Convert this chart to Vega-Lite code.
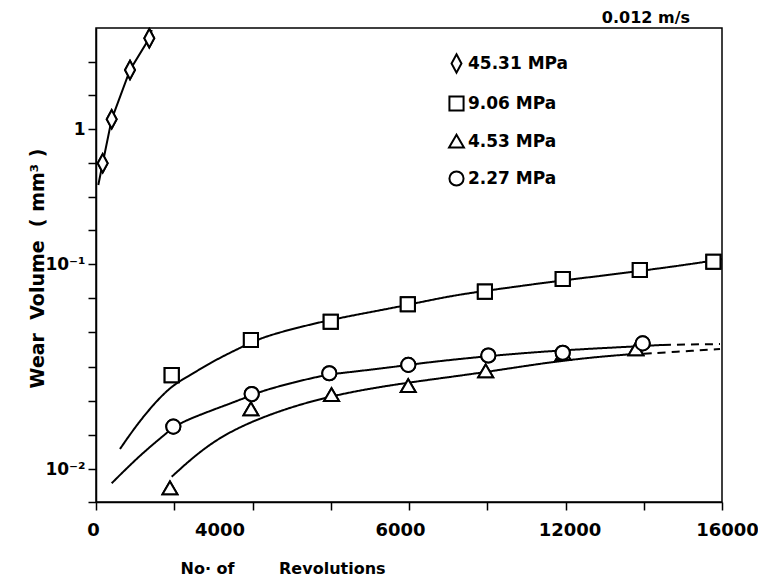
{
  "$schema": "https://vega.github.io/schema/vega-lite/v6.json",
  "width": 626,
  "height": 474,
  "autosize": {"type": "none"},
  "padding": {"left": 96, "top": 28, "right": 36, "bottom": 83},
  "background": "white",
  "title": {"text": "0.012 m/s", "anchor": "end", "frame": "group", "font": "DejaVu Sans", "fontWeight": "bold", "fontSize": 16, "color": "black", "offset": -1, "dx": -32},
  "datasets": {
    "points": [
      {"pressure": "45.31 MPa", "rev": 171, "wear": 0.557},
      {"pressure": "45.31 MPa", "rev": 401, "wear": 1.18},
      {"pressure": "45.31 MPa", "rev": 869, "wear": 2.735},
      {"pressure": "45.31 MPa", "rev": 1362, "wear": 4.70},
      {"pressure": "9.06 MPa", "rev": 1935, "wear": 0.0287},
      {"pressure": "9.06 MPa", "rev": 3960, "wear": 0.0426},
      {"pressure": "9.06 MPa", "rev": 6000, "wear": 0.0523},
      {"pressure": "9.06 MPa", "rev": 7970, "wear": 0.0636},
      {"pressure": "9.06 MPa", "rev": 9940, "wear": 0.0733},
      {"pressure": "9.06 MPa", "rev": 11930, "wear": 0.0845},
      {"pressure": "9.06 MPa", "rev": 13900, "wear": 0.0935},
      {"pressure": "9.06 MPa", "rev": 15780, "wear": 0.104},
      {"pressure": "4.53 MPa", "rev": 1890, "wear": 0.00805},
      {"pressure": "4.53 MPa", "rev": 3960, "wear": 0.01956},
      {"pressure": "4.53 MPa", "rev": 6020, "wear": 0.02296},
      {"pressure": "4.53 MPa", "rev": 7980, "wear": 0.02541},
      {"pressure": "4.53 MPa", "rev": 9960, "wear": 0.0300},
      {"pressure": "4.53 MPa", "rev": 11940, "wear": 0.0364},
      {"pressure": "4.53 MPa", "rev": 13800, "wear": 0.0384},
      {"pressure": "2.27 MPa", "rev": 1976, "wear": 0.0161},
      {"pressure": "2.27 MPa", "rev": 3980, "wear": 0.0232},
      {"pressure": "2.27 MPa", "rev": 5963, "wear": 0.0293},
      {"pressure": "2.27 MPa", "rev": 7982, "wear": 0.0322},
      {"pressure": "2.27 MPa", "rev": 10027, "wear": 0.0358},
      {"pressure": "2.27 MPa", "rev": 11929, "wear": 0.0369},
      {"pressure": "2.27 MPa", "rev": 13973, "wear": 0.0410}
    ],
    "curves": [
      {"seg": "dia", "style": "solid", "rev": 59, "wear": 0.385},
      {"seg": "dia", "style": "solid", "rev": 171, "wear": 0.557},
      {"seg": "dia", "style": "solid", "rev": 401, "wear": 1.18},
      {"seg": "dia", "style": "solid", "rev": 869, "wear": 2.735},
      {"seg": "dia", "style": "solid", "rev": 1362, "wear": 4.70},
      {"seg": "dia", "style": "solid", "rev": 1424, "wear": 5.41},
      {"seg": "sq", "style": "solid", "rev": 613, "wear": 0.01252},
      {"seg": "sq", "style": "solid", "rev": 1125, "wear": 0.01734},
      {"seg": "sq", "style": "solid", "rev": 1840, "wear": 0.02484},
      {"seg": "sq", "style": "solid", "rev": 2326, "wear": 0.0281},
      {"seg": "sq", "style": "solid", "rev": 3042, "wear": 0.0340},
      {"seg": "sq", "style": "solid", "rev": 3732, "wear": 0.0394},
      {"seg": "sq", "style": "solid", "rev": 4269, "wear": 0.0441},
      {"seg": "sq", "style": "solid", "rev": 5214, "wear": 0.0493},
      {"seg": "sq", "style": "solid", "rev": 6185, "wear": 0.0545},
      {"seg": "sq", "style": "solid", "rev": 7770, "wear": 0.0619},
      {"seg": "sq", "style": "solid", "rev": 9048, "wear": 0.0700},
      {"seg": "sq", "style": "solid", "rev": 10249, "wear": 0.0753},
      {"seg": "sq", "style": "solid", "rev": 11655, "wear": 0.0820},
      {"seg": "sq", "style": "solid", "rev": 12882, "wear": 0.0874},
      {"seg": "sq", "style": "solid", "rev": 14236, "wear": 0.0942},
      {"seg": "sq", "style": "solid", "rev": 15514, "wear": 0.1029},
      {"seg": "sq", "style": "solid", "rev": 16000, "wear": 0.1089},
      {"seg": "ci", "style": "solid", "rev": 401, "wear": 0.00852},
      {"seg": "ci", "style": "solid", "rev": 1125, "wear": 0.0117},
      {"seg": "ci", "style": "solid", "rev": 1848, "wear": 0.01521},
      {"seg": "ci", "style": "solid", "rev": 2147, "wear": 0.0170},
      {"seg": "ci", "style": "solid", "rev": 3808, "wear": 0.02213},
      {"seg": "ci", "style": "solid", "rev": 4276, "wear": 0.0243},
      {"seg": "ci", "style": "solid", "rev": 5810, "wear": 0.02874},
      {"seg": "ci", "style": "solid", "rev": 6236, "wear": 0.0293},
      {"seg": "ci", "style": "solid", "rev": 7813, "wear": 0.0318},
      {"seg": "ci", "style": "solid", "rev": 8281, "wear": 0.0328},
      {"seg": "ci", "style": "solid", "rev": 9815, "wear": 0.0353},
      {"seg": "ci", "style": "solid", "rev": 11688, "wear": 0.0378},
      {"seg": "ci", "style": "solid", "rev": 13655, "wear": 0.0395},
      {"seg": "ci", "style": "solid", "rev": 14491, "wear": 0.0403},
      {"seg": "ci", "style": "dashed", "rev": 14491, "wear": 0.0403},
      {"seg": "ci", "style": "dashed", "rev": 15949, "wear": 0.0407},
      {"seg": "tr", "style": "solid", "rev": 1935, "wear": 0.00917},
      {"seg": "tr", "style": "solid", "rev": 2914, "wear": 0.01354},
      {"seg": "tr", "style": "solid", "rev": 4107, "wear": 0.01767},
      {"seg": "tr", "style": "solid", "rev": 5810, "wear": 0.02253},
      {"seg": "tr", "style": "solid", "rev": 7770, "wear": 0.02618},
      {"seg": "tr", "style": "solid", "rev": 9815, "wear": 0.0293},
      {"seg": "tr", "style": "solid", "rev": 11775, "wear": 0.03375},
      {"seg": "tr", "style": "solid", "rev": 13649, "wear": 0.0364},
      {"seg": "tr", "style": "solid", "rev": 14000, "wear": 0.0365},
      {"seg": "tr", "style": "dashed", "rev": 14000, "wear": 0.0365},
      {"seg": "tr", "style": "dashed", "rev": 15361, "wear": 0.0378},
      {"seg": "tr", "style": "dashed", "rev": 15949, "wear": 0.0385}
    ]
  },
  "layer": [
    {
      "data": {"name": "points"},
      "mark": {"type": "point", "filled": false, "fill": "white", "strokeWidth": 2, "size": 200, "opacity": 1},
      "encoding": {
        "x": {
          "field": "rev", "type": "quantitative",
          "scale": {"domain": [0, 16000], "nice": false, "zero": false},
          "axis": {
            "title": "No·\u00a0of\u00a0\u00a0\u00a0\u00a0\u00a0\u00a0\u00a0\u00a0Revolutions",
            "values": [0, 1000, 2000, 3000, 4000, 5000, 6000, 7000, 8000, 9000, 10000, 11000, 12000, 13000, 14000, 15000, 16000],
            "labelExpr": "datum.value == 0 ? '0' : datum.value == 4000 ? '4000' : datum.value == 8000 ? '6000' : datum.value == 12000 ? '12000' : datum.value == 16000 ? '16000' : ''",
            "labelOverlap": false,
            "labelFlush": false,
            "labelBound": false,
            "labelPadding": 11,
            "labelOffset": {"expr": "datum.value == 0 ? -3 : datum.value == 4000 ? -33 : datum.value == 8000 ? -9 : datum.value == 12000 ? 4 : 5"},
            "titleX": 84,
            "titleY": 66,
            "titleAlign": "left",
            "titleBaseline": "middle",
            "titleFontSize": 16
          }
        },
        "y": {
          "field": "wear", "type": "quantitative",
          "scale": {"type": "log", "domain": [0.006902, 0.01, 0.1, 1, 5.6], "range": [474, 441, 236, 101, 0], "nice": false, "zero": false},
          "axis": {
            "title": "Wear\u00a0\u00a0Volume\u00a0\u00a0(\u00a0mm³\u00a0)",
            "values": [0.006902, 0.01, 0.01468, 0.02154, 0.03162, 0.04642, 0.06813, 0.1, 0.1778, 0.3162, 0.5623, 1, 1.778, 3.162],
            "labelExpr": "datum.value == 1 ? '1' : datum.value == 0.1 ? '10⁻¹' : datum.value == 0.01 ? '10⁻²' : ''",
            "labelOverlap": false,
            "labelFlush": false,
            "labelBound": false,
            "labelPadding": 3,
            "labelFontSize": 17,
            "titleX": -59,
            "titleY": 240,
            "titleAngle": -90,
            "titleAlign": "center",
            "titleBaseline": "middle",
            "titleFontSize": 19
          }
        },
        "color": {
          "field": "pressure", "type": "nominal",
          "scale": {"domain": ["45.31 MPa", "9.06 MPa", "4.53 MPa", "2.27 MPa"], "range": ["black", "black", "black", "black"]},
          "legend": {
            "title": null,
            "orient": "none",
            "legendX": 352,
            "legendY": 27,
            "symbolSize": 200,
            "labelOffset": 3,
            "rowPadding": 15
          }
        },
        "shape": {
          "field": "pressure", "type": "nominal",
          "scale": {"domain": ["45.31 MPa", "9.06 MPa", "4.53 MPa", "2.27 MPa"], "range": ["M0,-1.3L0.7,0L0,1.3L-0.7,0Z", "square", "M0,-0.95L1.05,0.85L-1.05,0.85Z", "circle"]},
          "legend": {
            "title": null,
            "orient": "none",
            "legendX": 352,
            "legendY": 27,
            "symbolSize": 200,
            "labelOffset": 3,
            "rowPadding": 15
          }
        }
      }
    },
    {
      "data": {"name": "curves"},
      "transform": [{"filter": "datum.seg != 'dia'"}],
      "mark": {"type": "line", "color": "black", "strokeWidth": 2, "interpolate": "basis"},
      "encoding": {
        "x": {"field": "rev", "type": "quantitative"},
        "y": {"field": "wear", "type": "quantitative"},
        "detail": {"field": "seg"},
        "strokeDash": {"field": "style", "type": "nominal", "scale": {"domain": ["solid", "dashed"], "range": [[1, 0], [8, 6]]}, "legend": null}
      }
    },
    {
      "data": {"name": "curves"},
      "transform": [{"filter": "datum.seg == 'dia'"}],
      "mark": {"type": "line", "color": "black", "strokeWidth": 2, "interpolate": "linear"},
      "encoding": {
        "x": {"field": "rev", "type": "quantitative"},
        "y": {"field": "wear", "type": "quantitative"}
      }
    },
    {
      "data": {"name": "points"},
      "mark": {"type": "point", "filled": false, "fill": "white", "color": "black", "strokeWidth": 2, "size": 200, "opacity": 1},
      "encoding": {
        "x": {"field": "rev", "type": "quantitative"},
        "y": {"field": "wear", "type": "quantitative"},
        "shape": {"field": "pressure", "type": "nominal", "legend": null}
      }
    }
  ],
  "config": {
    "view": {"stroke": "black", "strokeWidth": 1.5},
    "font": "DejaVu Sans",
    "legend": {
      "symbolFillColor": "white",
      "symbolStrokeWidth": 2,
      "labelFont": "DejaVu Sans",
      "labelFontWeight": "bold",
      "labelFontSize": 17,
      "labelColor": "black",
      "padding": 0
    },
    "axis": {
      "grid": false,
      "domainColor": "black",
      "domainWidth": 1.5,
      "tickColor": "black",
      "tickWidth": 1.5,
      "tickSize": 8,
      "labelColor": "black",
      "labelFont": "DejaVu Sans",
      "labelFontWeight": "bold",
      "labelFontSize": 18,
      "titleColor": "black",
      "titleFont": "DejaVu Sans",
      "titleFontWeight": "bold"
    }
  }
}
